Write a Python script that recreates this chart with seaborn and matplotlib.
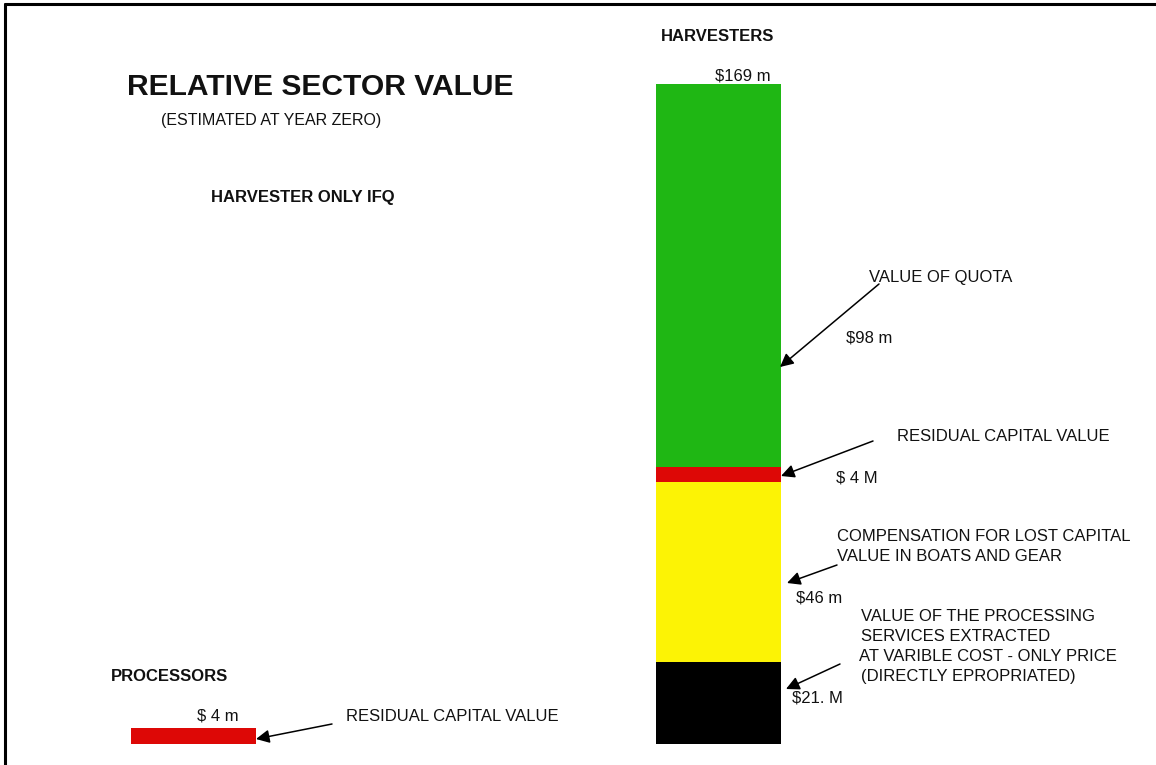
import matplotlib
matplotlib.use("Agg")
import matplotlib.pyplot as plt
from matplotlib.lines import Line2D
import pandas as pd
import seaborn as sns

# ---- data -------------------------------------------------------------
sectors = ["PROCESSORS", "HARVESTERS"]
harvester_parts = ["Processing services", "Lost capital compensation",
                   "Residual capital", "Value of quota"]
harvester_values = [21, 46, 4, 98]          # $ millions, bottom to top
processor_values = [4]                      # residual capital, $ millions
part_colors = ["#000000", "#FCF305", "#DD0806", "#1FB714"]

W, H = 1156, 765

sns.set_theme(style="white")
plt.rcParams["font.family"] = ["Liberation Sans", "DejaVu Sans"]

fig = plt.figure(figsize=(W / 100, H / 100), dpi=100)
ax = fig.add_axes([0, 0, 1, 1])

# stacked bar drawn as overlapping cumulative bars (tallest first)
cum = pd.Series(harvester_values).cumsum().tolist()
for top, color in reversed(list(zip(cum, part_colors))):
    df = pd.DataFrame({"sector": ["HARVESTERS"], "value": [top]})
    sns.barplot(data=df, x="sector", y="value", order=sectors, color=color,
                saturation=1, width=0.238, linewidth=0, errorbar=None, ax=ax)

proc = pd.DataFrame({"sector": ["PROCESSORS"], "value": processor_values})
sns.barplot(data=proc, x="sector", y="value", order=sectors, color="#DD0806",
            saturation=1, width=0.238, linewidth=0, errorbar=None, ax=ax)

ax.set_xlim(-0.3686, 1.8333)
ax.set_ylim(-5.38, 190.5)
ax.axis("off")

# frame (only left and top visible in the cropped original)
fig.add_artist(Line2D([5.3 / W, 5.3 / W], [0, 1 - 4.3 / H], color="black",
                      lw=2.2, transform=fig.transFigure))
fig.add_artist(Line2D([5.3 / W, 1], [1 - 4.3 / H, 1 - 4.3 / H], color="black",
                      lw=2.2, transform=fig.transFigure))


def put(x, y, s, size=12, weight="normal"):
    fig.text(x / W, 1 - y / H, s, fontsize=size, fontweight=weight,
             ha="left", va="baseline", color="#111111")


def arrow(x0, y0, x1, y1):
    ax.annotate("", xy=(x1, H - y1), xycoords="figure pixels",
                xytext=(x0, H - y0), textcoords="figure pixels",
                arrowprops=dict(arrowstyle="-|>", color="black", lw=1.1,
                                mutation_scale=20, shrinkA=0, shrinkB=0))


put(127, 95, "RELATIVE SECTOR VALUE", size=21.6, weight="bold")
put(161, 124.5, "(ESTIMATED AT YEAR ZERO)", size=11.5)
put(211, 202, "HARVESTER ONLY IFQ", weight="bold")
put(661, 41, "HARVESTERS", weight="bold")
put(715, 81, f"${sum(harvester_values)} m")
put(111, 681, "PROCESSORS", weight="bold")
put(197, 721, f"$ {processor_values[0]} m")
put(346, 721, "RESIDUAL CAPITAL VALUE")

put(869, 282, "VALUE OF QUOTA")
put(846, 342, f"${harvester_values[3]} m")
put(897, 441, "RESIDUAL CAPITAL VALUE")
put(836, 482, f"$ {harvester_values[2]} M")
put(837, 541, "COMPENSATION FOR LOST CAPITAL")
put(837, 561, "VALUE IN BOATS AND GEAR")
put(796, 602, f"${harvester_values[1]} m")
put(861, 621, "VALUE OF THE PROCESSING")
put(861, 641, "SERVICES EXTRACTED")
put(859, 661, "AT VARIBLE COST - ONLY PRICE")
put(861, 681, "(DIRECTLY EPROPRIATED)")
put(792, 702, f"${harvester_values[0]}. M")

arrow(879, 284, 780, 367)
arrow(873, 441, 781, 476)
arrow(837, 565, 787, 583)
arrow(840, 664, 786, 689)
arrow(332, 724, 256, 739)

fig.savefig("out.png", dpi=100)
